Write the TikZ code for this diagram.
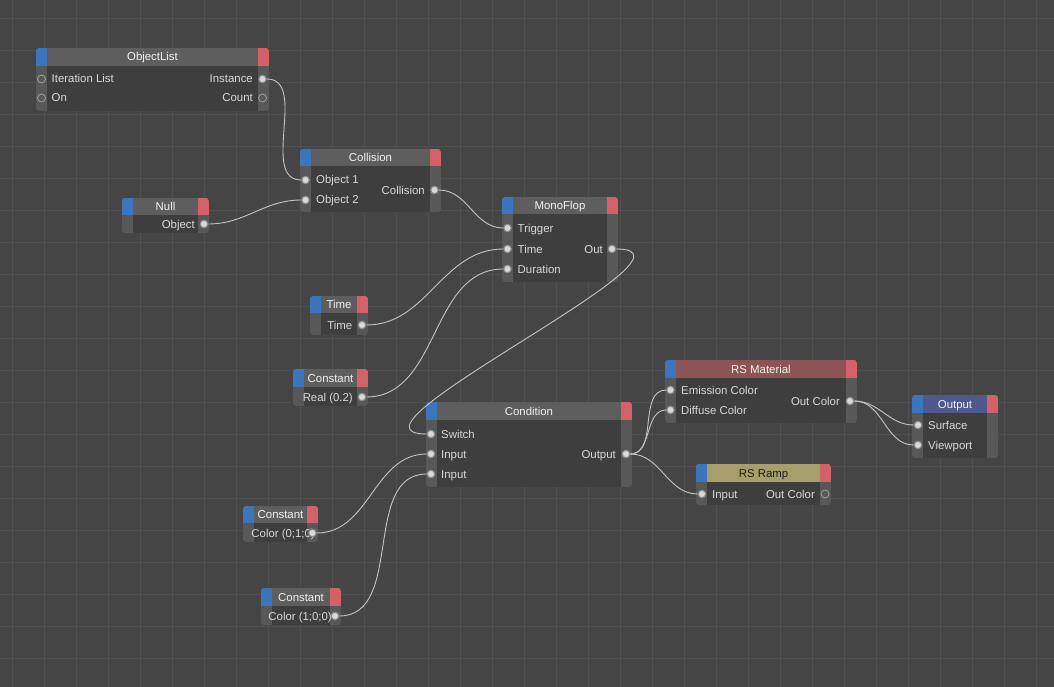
\documentclass[tikz,border=0pt]{standalone}
\usepackage{fontspec}
\setmainfont{Liberation Sans}
\definecolor{bg}{HTML}{454545}
\definecolor{gridc}{HTML}{505050}
\definecolor{nbody}{HTML}{3E3E3E}
\definecolor{hdgrey}{HTML}{5E5E5E}
\definecolor{gut}{HTML}{585858}
\definecolor{tabblue}{RGB}{58,117,190}
\definecolor{tabred}{RGB}{210,98,104}
\definecolor{hdmat}{RGB}{140,84,84}
\definecolor{hdout}{RGB}{78,88,140}
\definecolor{hdramp}{RGB}{168,158,108}
\definecolor{ttl}{HTML}{F2F2F2}
\definecolor{ttldark}{HTML}{1C1C1C}
\definecolor{lbl}{HTML}{D8D8D8}
\definecolor{wirec}{HTML}{C4C4C4}
\begin{document}
\begin{tikzpicture}[x=1pt,y=-1pt,
    font=\fontsize{11.4}{13}\selectfont,
    title/.style={inner sep=0,text height=8pt,text depth=0pt,font=\fontsize{11.4}{13}\selectfont},
    lblin/.style={anchor=west,inner sep=0,text height=8pt,text depth=0pt,text=lbl},
    lblout/.style={anchor=east,inner sep=0,text height=8pt,text depth=0pt,text=lbl},
    socket/.style={circle,inner sep=0,minimum size=7.5pt,fill=black!15,draw=black!45,line width=1.1pt},
    socketfree/.style={circle,inner sep=0,minimum size=8pt,draw=black!40,line width=0.9pt},
    wire/.style={wirec,line width=0.9pt}]
  \useasboundingbox (0,0) rectangle (1054,687);
  \fill[bg] (0,0) rectangle (1054,687);
  % editor grid
  \foreach \x in {12.7,44.7,...,1054}
    \draw[gridc,line width=0.8pt] (\x,0) -- (\x,687);
  \foreach \y in {18.3,50.3,...,687}
    \draw[gridc,line width=0.8pt] (0,\y) -- (1054,\y);
  % node frames: name/left/top/header bottom/right/bottom/header colour/title colour/title
  \foreach \n/\xa/\ya/\hb/\xb/\yb/\hc/\tc/\t in {
      objlist/36/48/66/269/111/hdgrey/ttl/ObjectList,
      coll/300/149/166/441/212/hdgrey/ttl/Collision,
      null/122/198/215/209/233/hdgrey/ttl/Null,
      mono/502/197/214/618/282/hdgrey/ttl/MonoFlop,
      time/310/296/313/368/335/hdgrey/ttl/Time,
      creal/293/369/387/368/406/hdgrey/ttl/Constant,
      cond/426/402/420/632/487/hdgrey/ttl/Condition,
      rsmat/665/360/378/857/423/hdmat/ttl/RS Material,
      outp/912/395/413/998/458/hdout/ttl/Output,
      ramp/696/464/482/831/505/hdramp/ttldark/RS Ramp,
      cgreen/243/506/523/318/542/hdgrey/ttl/Constant,
      cred/261/588/606/341/625/hdgrey/ttl/Constant}{
    \begin{scope}
      \clip[rounded corners=3pt] (\xa,\ya) rectangle (\xb,\yb);
      \fill[nbody] (\xa,\ya) rectangle (\xb,\yb);
      \fill[\hc] (\xa,\ya) rectangle (\xb,\hb);
      \fill[gut] (\xa,\hb) rectangle (\xa+11,\yb);
      \fill[gut] (\xb-11,\hb) rectangle (\xb,\yb);
      \fill[tabblue] (\xa,\ya) rectangle (\xa+11,\hb);
      \fill[tabred] (\xb-11,\ya) rectangle (\xb,\hb);
    \end{scope}
    \node[title,text=\tc] (\n) at ({(\xa+\xb)/2},{(\ya+\hb)/2}) {\t};
  }
  % ObjectList
  \node[socketfree] (ol-it) at (41.5,79) {};
  \node[socketfree] (ol-on) at (41.5,98) {};
  \node[socket] (ol-inst) at (262.5,79) {};
  \node[socketfree] (ol-cnt) at (262.5,98) {};
  \node[lblin] (ol-it-t) at (51.5,79) {Iteration List};
  \node[lblin] (ol-on-t) at (51.5,98) {On};
  \node[lblout] (ol-inst-t) at (253,79) {Instance};
  \node[lblout] (ol-cnt-t) at (253,98) {Count};
  % Collision
  \node[socket] (co-o1) at (305.5,180) {};
  \node[socket] (co-o2) at (305.5,200) {};
  \node[socket] (co-out) at (434.5,190) {};
  \node[lblin] (co-o1-t) at (316,180) {Object 1};
  \node[lblin] (co-o2-t) at (316,200) {Object 2};
  \node[lblout] (co-out-t) at (425,190) {Collision};
  % Null
  \node[socket] (nu-obj) at (204,224) {};
  \node[lblout] (nu-obj-t) at (195,224) {Object};
  % MonoFlop
  \node[socket] (mf-trig) at (507.5,228) {};
  \node[socket] (mf-time) at (507.5,249) {};
  \node[socket] (mf-dur) at (507.5,269) {};
  \node[socket] (mf-out) at (612,249) {};
  \node[lblin] (mf-trig-t) at (517.5,228) {Trigger};
  \node[lblin] (mf-time-t) at (517.5,249) {Time};
  \node[lblin] (mf-dur-t) at (517.5,269) {Duration};
  \node[lblout] (mf-out-t) at (603,249) {Out};
  % Time
  \node[socket] (ti-out) at (362,325) {};
  \node[lblout] (ti-out-t) at (352.5,325) {Time};
  % Constant (real)
  \node[socket] (cr-out) at (362,397) {};
  \node[lblout] (cr-out-t) at (353,397) {Real (0.2)};
  % Condition
  \node[socket] (cd-sw) at (431,434) {};
  \node[socket] (cd-in1) at (431,454) {};
  \node[socket] (cd-in2) at (431,474) {};
  \node[socket] (cd-out) at (626,454) {};
  \node[lblin] (cd-sw-t) at (441,434) {Switch};
  \node[lblin] (cd-in1-t) at (441,454) {Input};
  \node[lblin] (cd-in2-t) at (441,474) {Input};
  \node[lblout] (cd-out-t) at (616,454) {Output};
  % RS Material
  \node[socket] (rm-em) at (670.5,390) {};
  \node[socket] (rm-dif) at (670.5,410) {};
  \node[socket] (rm-out) at (850,401) {};
  \node[lblin] (rm-em-t) at (681,390) {Emission Color};
  \node[lblin] (rm-dif-t) at (681,410) {Diffuse Color};
  \node[lblout] (rm-out-t) at (840,401) {Out Color};
  % Output
  \node[socket] (op-surf) at (918,425) {};
  \node[socket] (op-view) at (918,445) {};
  \node[lblin] (op-surf-t) at (928,425) {Surface};
  \node[lblin] (op-view-t) at (928,445) {Viewport};
  % RS Ramp
  \node[socket] (rr-in) at (702,494) {};
  \node[socketfree] (rr-out) at (825,494) {};
  \node[lblin] (rr-in-t) at (712,494) {Input};
  \node[lblout] (rr-out-t) at (815,494) {Out Color};
  % Constant colours, labels run under the socket
  \begin{scope}
    \clip (251,523) rectangle (318,542);
    \node[lblout] (cg-out-t) at (315,533) {Color (0;1;0)};
  \end{scope}
  \node[socket] (cg-out) at (312.5,533) {};
  \node[lblout] (cx-out-t) at (332,616) {Color (1;0;0)};
  \node[socket] (cx-out) at (335,616) {};
  % wires
  \draw[wire] (ol-inst) to[out=0,in=180] (co-o1);
  \draw[wire] (nu-obj) to[out=0,in=180] (co-o2);
  \draw[wire] (co-out) to[out=0,in=180] (mf-trig);
  \draw[wire] (ti-out) to[out=0,in=180] (mf-time);
  \draw[wire] (cr-out) to[out=0,in=180] (mf-dur);
  \draw[wire] (mf-out) to[out=0,in=180] (cd-sw);
  \draw[wire] (cg-out) to[out=0,in=180] (cd-in1);
  \draw[wire] (cx-out) to[out=0,in=180] (cd-in2);
  \draw[wire] (cd-out) to[out=0,in=180] (rm-em);
  \draw[wire] (cd-out) to[out=0,in=180] (rm-dif);
  \draw[wire] (cd-out) to[out=0,in=180] (rr-in);
  \draw[wire] (rm-out) to[out=0,in=180] (op-surf);
  \draw[wire] (rm-out) to[out=0,in=180] (op-view);
\end{tikzpicture}
\end{document}
